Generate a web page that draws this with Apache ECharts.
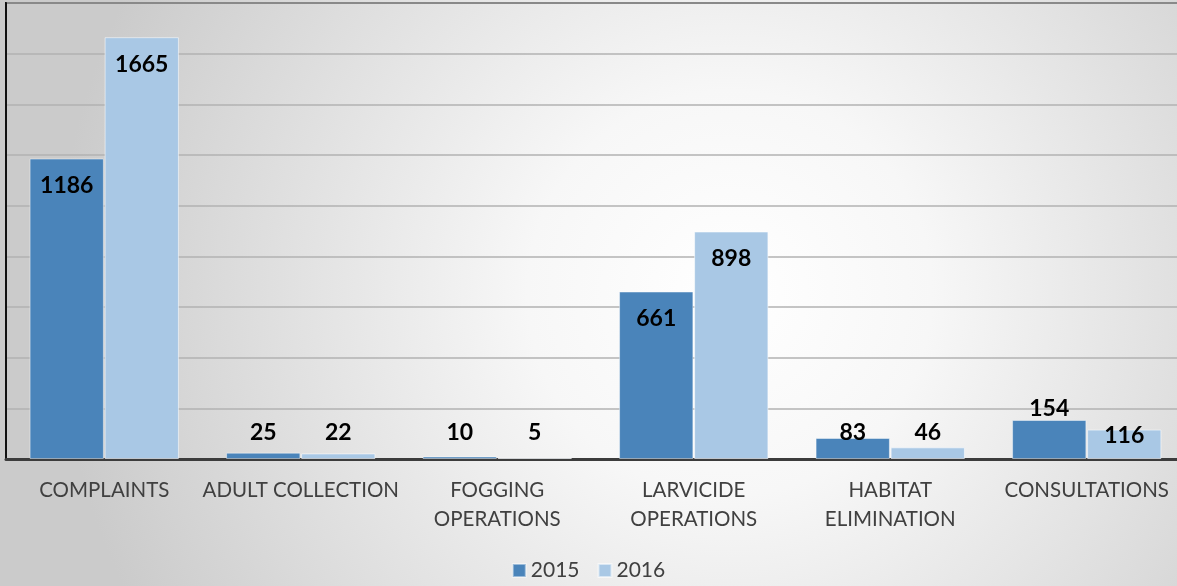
<!DOCTYPE html>
<html>
<head>
<meta charset="utf-8">
<script src="https://cdn.jsdelivr.net/npm/echarts@6/dist/echarts.min.js"></script>
<style>
  html, body { margin: 0; padding: 0; }
  #chart { width: 1177px; height: 586px; }
</style>
</head>
<body>
<div id="chart"></div>
<script>
const categories = ["COMPLAINTS", "ADULT COLLECTION", "FOGGING\nOPERATIONS", "LARVICIDE\nOPERATIONS", "HABITAT\nELIMINATION", "CONSULTATIONS"];
const values2015 = [1186, 25, 10, 661, 83, 154];
const values2016 = [1665, 22, 5, 898, 46, 116];

const labelFont = { color: "#000", fontFamily: "Lato", fontWeight: "bold", fontSize: 23 };

// mimic Excel label placement: inside end for tall bars, floated above axis for short ones
function labelFor(v, outsideMid) {
  if (v >= 500) return { show: true, position: "insideTop", distance: 16, ...labelFont };
  if (v < 100) return { show: true, position: "insideBottom", distance: 15, ...labelFont };
  if (outsideMid) return { show: true, position: "top", distance: 0, ...labelFont };
  return { show: true, position: "insideTop", distance: -6, ...labelFont };
}

function seriesData(values, outsideMid) {
  return values.map((v) => ({ value: v, label: labelFor(v, outsideMid) }));
}

const chart = echarts.init(document.getElementById("chart"));

chart.setOption({
  backgroundColor: {
    type: "radial",
    x: 0.62,
    y: 0.5,
    r: 1.15,
    colorStops: [
      { offset: 0, color: "#ffffff" },
      { offset: 0.3, color: "#f7f7f7" },
      { offset: 1, color: "#cbcbcb" },
    ],
  },
  grid: {
    left: 6,
    width: 1179,
    top: 3,
    height: 456,
    outerBoundsMode: "none",
    containLabel: false,
    show: true,
    borderColor: "#111",
    borderWidth: 2,
    backgroundColor: "transparent",
  },
  legend: {
    data: ["2015", "2016"],
    top: 560,
    left: "center",
    icon: "rect",
    itemWidth: 13,
    itemHeight: 13,
    itemGap: 18,
    textStyle: { fontFamily: "Lato", fontSize: 21, color: "#404040" },
    padding: [0, 10],
  },
  xAxis: {
    type: "category",
    data: categories,
    axisTick: { show: false },
    axisLine: { lineStyle: { color: "#3c3c3c", width: 3 } },
    axisLabel: {
      fontFamily: "Lato",
      fontSize: 20.5,
      color: "#404040",
      lineHeight: 29,
      margin: 17,
      interval: 0,
    },
  },
  yAxis: {
    type: "value",
    min: 0,
    max: 1800,
    interval: 200,
    axisLabel: { show: false },
    axisTick: { show: false },
    axisLine: { show: true, lineStyle: { color: "#111", width: 2 } },
    splitLine: { lineStyle: { color: "#b2b2b2", width: 1.5 } },
  },
  series: [
    {
      name: "2015",
      type: "bar",
      data: seriesData(values2015, true),
      barGap: "1%",
      barCategoryGap: "24%",
      itemStyle: { color: "#4a84ba", borderColor: "rgba(255,255,255,0.45)", borderWidth: 1 },
    },
    {
      name: "2016",
      type: "bar",
      data: seriesData(values2016, false),
      itemStyle: { color: "#a9c8e5", borderColor: "rgba(255,255,255,0.55)", borderWidth: 1 },
    },
  ],
});
</script>
</body>
</html>
